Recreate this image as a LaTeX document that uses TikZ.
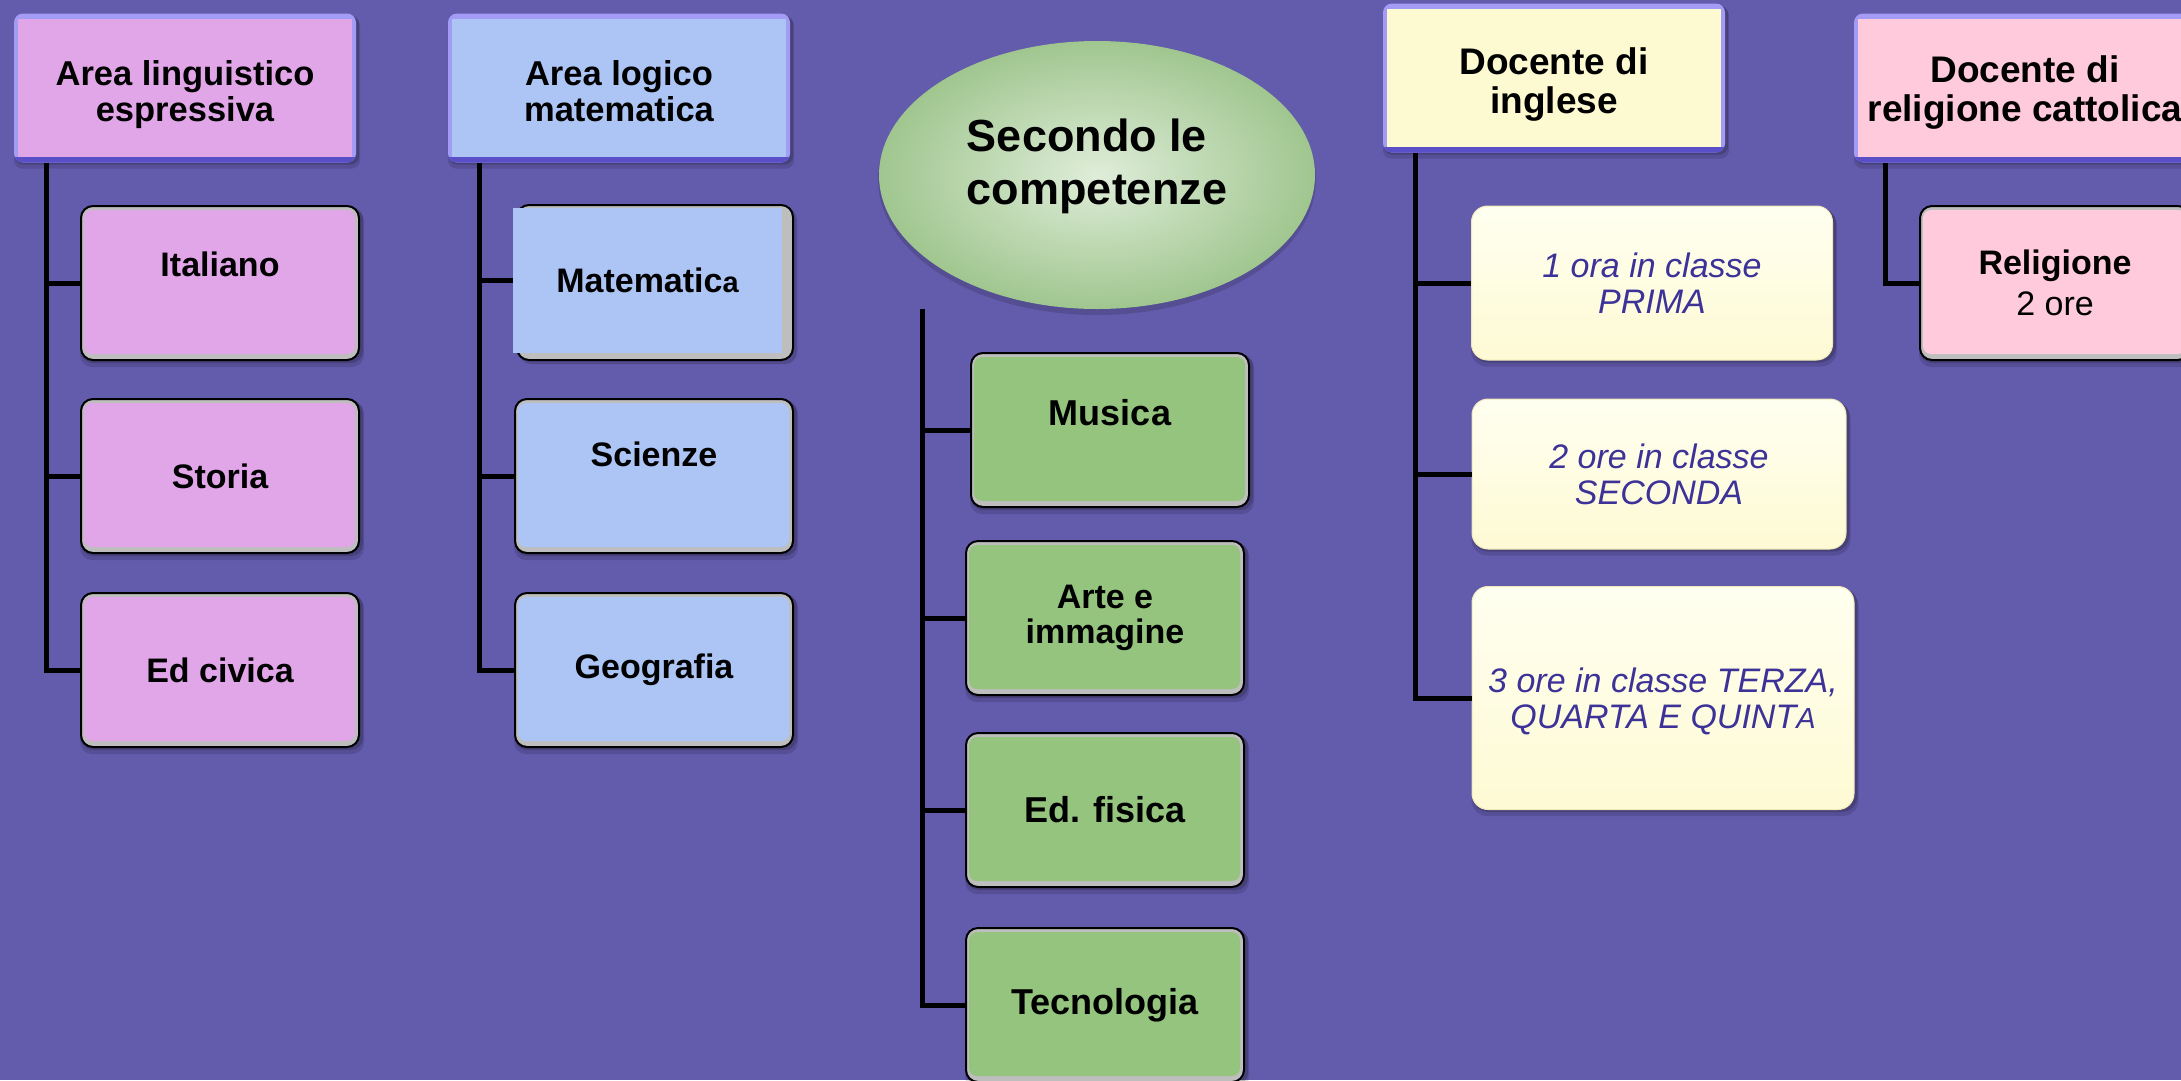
\documentclass[tikz,border=0pt]{standalone}
\usepackage{fontspec}
\setmainfont{Liberation Sans}
\usetikzlibrary{shapes.geometric}
\definecolor{bgc}{RGB}{99,91,172}
\definecolor{hlite}{RGB}{162,156,244}
\definecolor{hdark}{RGB}{90,79,198}
\definecolor{kgray}{RGB}{190,190,190}
\definecolor{pinkA}{RGB}{225,166,231}
\definecolor{blueA}{RGB}{173,197,245}
\definecolor{greenA}{RGB}{148,196,126}
\definecolor{yelH}{RGB}{253,249,209}
\definecolor{pinkR}{RGB}{255,202,219}
\definecolor{ytop}{RGB}{255,255,240}
\definecolor{ybot}{RGB}{254,250,212}
\definecolor{yedge}{RGB}{240,232,186}
\definecolor{tblue}{RGB}{60,50,152}
\definecolor{ellIn}{RGB}{223,237,217}
\definecolor{ellOut}{RGB}{160,198,143}
\pgfdeclarelayer{bgl}\pgfdeclarelayer{shl}\pgfsetlayers{bgl,shl,main}
\tikzset{
 hdr/.style={rounded corners=9pt, fill=hlite, minimum width=342pt, minimum height=149pt, inner sep=0pt,
  path picture={
   \fill[hdark, sharp corners] (path picture bounding box.south west) rectangle ([yshift=6pt]path picture bounding box.south east);
   \fill[#1, sharp corners] ([shift={(4pt,6pt)}]path picture bounding box.south west) rectangle ([shift={(-4pt,-5pt)}]path picture bounding box.north east);
  }},
 hlab/.style={yshift=-7pt, align=center, inner sep=0pt, font=\bfseries\fontsize{34.5}{36}\selectfont},
 kid/.style={rounded corners=12pt, draw=black, line width=2pt, fill=kgray, minimum width=278pt, minimum height=154pt, inner sep=0pt,
  font=\bfseries\fontsize{34}{36}\selectfont,
  path picture={\fill[#1, rounded corners=8pt] ([shift={(3pt,6pt)}]path picture bounding box.south west) rectangle ([shift={(-4pt,-4pt)}]path picture bounding box.north east);}},
 ylw/.style={rounded corners=16pt, draw=yedge, line width=1pt, top color=ytop, bottom color=ybot, inner sep=0pt, align=center,
  text=tblue, font=\itshape\fontsize{34}{36}\selectfont},
 conn/.style={line width=5pt, draw=black},
}
\newcommand\mkshadow[2]{%
 \begin{pgfonlayer}{shl}
 \fill[black,opacity=.18,rounded corners=#2] ([shift={(1pt,-2pt)}]#1.south west) rectangle ([shift={(3pt,-2pt)}]#1.north east);
 \fill[black,opacity=.12,rounded corners=#2] ([shift={(0pt,-6pt)}]#1.south west) rectangle ([shift={(4pt,-4pt)}]#1.north east);
 \end{pgfonlayer}}
\begin{document}
\begin{tikzpicture}[x=1pt,y=-1pt]
\useasboundingbox (0,0) rectangle (2181,1080);
\begin{pgfonlayer}{bgl}
\fill[bgc] (0,0) rectangle (2181,1080);
\end{pgfonlayer}

% headers
\node[hdr=pinkA, label={[hlab, name=h1T]center:Area linguistico\\espressiva}] (h1) at (185,88) {};
\node[hdr=blueA, label={[hlab, name=h2T, yshift=4pt]center:Area logico\\matematica}] (h2) at (619,88) {};
\node[hdr=yelH, label={[hlab, name=h4T, font=\bfseries\fontsize{37}{39}\selectfont]center:Docente di\\inglese}] (h4) at (1554,78) {};
\node[hdr=pinkR, label={[hlab, name=h5T, yshift=2pt, font=\bfseries\fontsize{37}{39}\selectfont]center:Docente di\\religione cattolica}] (h5) at (2025,88) {};

% column 1
\node[kid=pinkA, text depth=38pt] (ita) at (220,283) {Italiano};
\node[kid=pinkA] (sto) at (220,476) {Storia};
\node[kid=pinkA] (edc) at (220,670) {Ed civica};

% column 2
\draw[black, line width=2pt, fill=kgray, rounded corners=12pt] (517,205) rectangle (793,360);
\fill[blueA] (513,208) rectangle (782,353);
\node[minimum width=269pt, minimum height=145pt, inner sep=0pt, font=\bfseries\fontsize{34}{36}\selectfont] (mat) at (647.5,280.5) {Matematic{\fontsize{29}{29}\selectfont a}};
\node[kid=blueA, text depth=44pt] (sci) at (654,476) {Scienze};
\node[kid=blueA] (geo) at (654,670) {Geografia};

% center
\node[ellipse, minimum width=436pt, minimum height=268pt, inner sep=0pt, inner color=ellIn, outer color=ellOut,
  label={[name=secT, yshift=9pt, align=left, font=\bfseries\fontsize{45}{53}\selectfont]center:Secondo le\\competenze}] (sec) at (1097,175) {};
\node[kid=greenA, font=\bfseries\fontsize{36}{38}\selectfont, text depth=36pt] (mus) at (1110,430) {Musica};
\node[kid=greenA, align=center, font=\bfseries\fontsize{34}{35}\selectfont] (art) at (1105,618) {Arte e\\immagine};
\node[kid=greenA, font=\bfseries\fontsize{36}{38}\selectfont] (edf) at (1105,810) {Ed. fisica};
\node[kid=greenA, font=\bfseries\fontsize{36}{38}\selectfont] (tec) at (1105,1005) {Tecnologia};

% column 4
\node[ylw, minimum width=361pt, minimum height=154pt] (y1) at (1652,283) {1 ora in classe\\PRIMA};
\node[ylw, minimum width=374pt, minimum height=150pt] (y2) at (1659,474) {2 ore in classe\\SECONDA};
\node[ylw, minimum width=382pt, minimum height=223pt, text depth=0pt] (y3) at (1663,698) {3 ore in classe TERZA,\\QUARTA E QUINT{\fontsize{29}{29}\selectfont A}};

% column 5
\node[kid=pinkR, align=center, minimum width=270pt] (rel) at (2055,283) {Religione\\[5pt]{\mdseries 2 ore}};

% shadows
\mkshadow{h1}{9pt}\mkshadow{h2}{9pt}\mkshadow{h4}{9pt}\mkshadow{h5}{9pt}
\mkshadow{ita}{12pt}\mkshadow{sto}{12pt}\mkshadow{edc}{12pt}
\mkshadow{sci}{12pt}\mkshadow{geo}{12pt}
\mkshadow{mus}{12pt}\mkshadow{art}{12pt}\mkshadow{edf}{12pt}\mkshadow{tec}{12pt}
\mkshadow{y1}{16pt}\mkshadow{y2}{16pt}\mkshadow{y3}{16pt}\mkshadow{rel}{12pt}
\begin{pgfonlayer}{shl}
\fill[black,opacity=.18,rounded corners=12pt] (519,208) rectangle (797,364);
\fill[black,opacity=.14] ([yshift=-4pt]sec.center) ellipse (219pt and 136pt);
\end{pgfonlayer}

% connectors
\coordinate (v1) at ([xshift=33pt]h1.south west);
\draw[conn] (v1) |- (edc.west);
\draw[conn] (v1 |- ita.west) -- (ita.west);
\draw[conn] (v1 |- sto.west) -- (sto.west);

\coordinate (v2) at ([xshift=32pt]h2.south west);
\draw[conn] (v2) |- (geo.west);
\draw[conn] (v2 |- mat.west) -- (mat.west);
\draw[conn] (v2 |- sci.west) -- (sci.west);

\coordinate (v3) at (922,309);
\draw[conn] (v3) |- (tec.west);
\draw[conn] (v3 |- mus.west) -- (mus.west);
\draw[conn] (v3 |- art.west) -- (art.west);
\draw[conn] (v3 |- edf.west) -- (edf.west);

\coordinate (v4) at ([xshift=33pt]h4.south west);
\draw[conn] (v4) |- (y3.west);
\draw[conn] (v4 |- y1.west) -- (y1.west);
\draw[conn] (v4 |- y2.west) -- (y2.west);

\coordinate (v5) at ([xshift=32pt]h5.south west);
\draw[conn] (v5) |- (rel.west);
\end{tikzpicture}
\end{document}
